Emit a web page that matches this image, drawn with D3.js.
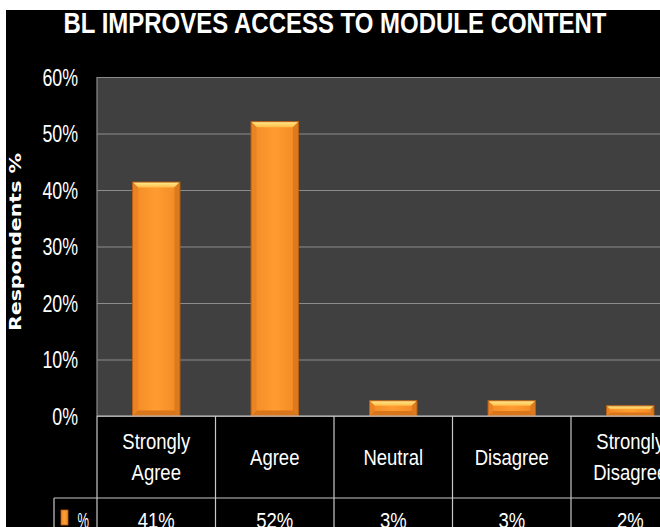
<!DOCTYPE html>
<html>
<head>
<meta charset="utf-8">
<script src="https://cdn.jsdelivr.net/npm/d3@7"></script>
<style>
  html, body { margin: 0; padding: 0; background: #ffffff; }
  svg { display: block; }
</style>
</head>
<body>
<svg id="chart" width="660" height="527"></svg>
<script>
// ---- data ----
const title = "BL IMPROVES ACCESS TO MODULE CONTENT";
const yAxisTitle = "Respondents %";
const seriesName = "%";
const categories = ["Strongly Agree", "Agree", "Neutral", "Disagree", "Strongly Disagree"];
const values = [0.414, 0.521, 0.027, 0.027, 0.018];
const tableLabels = ["41%", "52%", "3%", "3%", "2%"];
const yTicks = [0, 0.1, 0.2, 0.3, 0.4, 0.5, 0.6];

// ---- layout ----
const W = 660, H = 527;
const plot = { left: 97, right: 689.5, top: 77, bottom: 416 };
const tableRow1 = 498, tableRow2 = 545;
const legendLeft = 54;
const FONT = "'Liberation Sans', Arial, sans-serif";
const CAP = 0.716;

const svg = d3.select("#chart");

// white margins + black chart background
svg.append("rect").attr("x", 0).attr("y", 0).attr("width", W).attr("height", H).attr("fill", "#ffffff");
svg.append("rect").attr("x", 6).attr("y", 10).attr("width", W).attr("height", H).attr("fill", "#000000");

const defs = svg.append("defs");
const gTop = defs.append("linearGradient").attr("id", "bevelTop").attr("x1", 0).attr("y1", 0).attr("x2", 0).attr("y2", 1);
gTop.append("stop").attr("offset", "0%").attr("stop-color", "#ffec90");
gTop.append("stop").attr("offset", "100%").attr("stop-color", "#ffbc48");
const gBody = defs.append("linearGradient").attr("id", "body").attr("x1", 0).attr("y1", 0).attr("x2", 1).attr("y2", 0);
gBody.append("stop").attr("offset", "0%").attr("stop-color", "#f28a26");
gBody.append("stop").attr("offset", "50%").attr("stop-color", "#ff9c30");
gBody.append("stop").attr("offset", "100%").attr("stop-color", "#f08824");

// helper: stretched text (the reference is vertically stretched)
function stretchedText(parent, x, y, str, size, sy, anchor, sx) {
  return parent.append("text")
    .attr("transform", `translate(${x},${y}) scale(${sx || 1},${sy})`)
    .attr("text-anchor", anchor || "middle")
    .attr("fill", "#ffffff")
    .attr("font-family", FONT)
    .attr("font-size", size)
    .text(str);
}

// scales
const x = d3.scaleBand().domain(categories).range([plot.left, plot.right]).padding(0);
const y = d3.scaleLinear().domain([0, 0.6]).range([plot.bottom, plot.top]);

// plot area
svg.append("rect")
  .attr("x", plot.left).attr("y", plot.top)
  .attr("width", plot.right - plot.left).attr("height", plot.bottom - plot.top)
  .attr("fill", "#404040");

// gridlines
const grid = svg.append("g")
  .attr("transform", `translate(${plot.left},0)`)
  .call(d3.axisLeft(y).tickValues(yTicks).tickSize(-(plot.right - plot.left)).tickFormat(""));
grid.select(".domain").remove();
grid.selectAll(".tick line").attr("stroke", "#8c8c8c").attr("stroke-width", 1.2);

// plot left border
svg.append("line").attr("x1", plot.left).attr("x2", plot.left).attr("y1", plot.top).attr("y2", plot.bottom)
  .attr("stroke", "#8c8c8c").attr("stroke-width", 1.2);

// y tick labels
const tickSize = 17.8, tickSy = 1.38;
const fmt = d3.format(".0%");
const yLab = svg.append("g");
yTicks.forEach(t => {
  stretchedText(yLab, 78, y(t) + CAP * tickSize * tickSy / 2, fmt(t), tickSize, tickSy, "end");
});

// bars with bevel
const bw = x.bandwidth() * 0.4;
const bars = svg.append("g").selectAll("g").data(categories).join("g");
bars.each(function (c, i) {
  const g = d3.select(this);
  const bx = x(c) + (x.bandwidth() - bw) / 2;
  const by = y(values[i]);
  const bh = y(0) - by;
  const b = Math.min(5.5, bh / 3);
  const X0 = bx, X1 = bx + bw, Y0 = by, Y1 = by + bh;
  g.append("rect").attr("x", X0).attr("y", Y0).attr("width", bw).attr("height", bh).attr("fill", "url(#body)");
  g.append("polygon").attr("points", [[X0, Y0], [X1, Y0], [X1 - b, Y0 + b], [X0 + b, Y0 + b]].join(" "))
    .attr("fill", "url(#bevelTop)");
  g.append("polygon").attr("points", [[X0, Y0], [X0 + b, Y0 + b], [X0 + b, Y1 - b], [X0, Y1]].join(" "))
    .attr("fill", "#ea8422");
  g.append("polygon").attr("points", [[X1, Y0], [X1 - b, Y0 + b], [X1 - b, Y1 - b], [X1, Y1]].join(" "))
    .attr("fill", "#dc7a1e");
  g.append("polygon").attr("points", [[X0, Y1], [X0 + b, Y1 - b], [X1 - b, Y1 - b], [X1, Y1]].join(" "))
    .attr("fill", "#d9751b");
  g.append("rect").attr("x", X0).attr("y", Y0).attr("width", bw).attr("height", bh)
    .attr("fill", "none").attr("stroke", "#b85e14").attr("stroke-width", 1);
});

// data table lines
const lineColor = "#c8c8c8";
const tbl = svg.append("g").attr("stroke", lineColor).attr("stroke-width", 1.2);
tbl.append("line").attr("x1", plot.left).attr("x2", plot.right).attr("y1", plot.bottom).attr("y2", plot.bottom);
tbl.append("line").attr("x1", legendLeft).attr("x2", plot.right).attr("y1", tableRow1).attr("y2", tableRow1);
tbl.append("line").attr("x1", legendLeft).attr("x2", legendLeft).attr("y1", tableRow1).attr("y2", tableRow2);
const dividers = [plot.left].concat(categories.map(c => x(c) + x.bandwidth()));
tbl.selectAll(".div").data(dividers).join("line")
  .attr("x1", d => d).attr("x2", d => d).attr("y1", plot.bottom).attr("y2", tableRow2);

// category labels
const catSize = 18.5, catSy = 1.22;
const catG = svg.append("g");
categories.forEach(c => {
  const cx = x(c) + x.bandwidth() / 2;
  const words = c.split(" ");
  if (words.length > 1) {
    stretchedText(catG, cx, 449, words[0], catSize, catSy);
    stretchedText(catG, cx, 480, words.slice(1).join(" "), catSize, catSy);
  } else {
    stretchedText(catG, cx, 464.5, c, catSize, catSy);
  }
});

// value row
const valG = svg.append("g");
categories.forEach((c, i) => {
  stretchedText(valG, x(c) + x.bandwidth() / 2, 528, tableLabels[i], catSize, catSy);
});

// legend key in table
svg.append("rect").attr("x", 61).attr("y", 510).attr("width", 7).attr("height", 15)
  .attr("fill", "url(#body)").attr("stroke", "#b85e14").attr("stroke-width", 0.8);
stretchedText(svg, 77.5, 528, seriesName, catSize, catSy, "start", 0.7);

// title
svg.append("text")
  .attr("transform", "translate(335,32.5) scale(1,1.1)")
  .attr("text-anchor", "middle")
  .attr("fill", "#ffffff")
  .attr("font-family", FONT)
  .attr("font-weight", "bold")
  .attr("font-size", 26)
  .attr("textLength", 543)
  .attr("lengthAdjust", "spacingAndGlyphs")
  .text(title);

// y axis title
svg.append("text")
  .attr("transform", "translate(21,242) rotate(-90)")
  .attr("text-anchor", "middle")
  .attr("fill", "#ffffff")
  .attr("font-family", "'DejaVu Sans', Verdana, sans-serif")
  .attr("font-weight", "bold")
  .attr("font-size", 15.5)
  .attr("textLength", 178)
  .attr("lengthAdjust", "spacingAndGlyphs")
  .text(yAxisTitle);
</script>
</body>
</html>
